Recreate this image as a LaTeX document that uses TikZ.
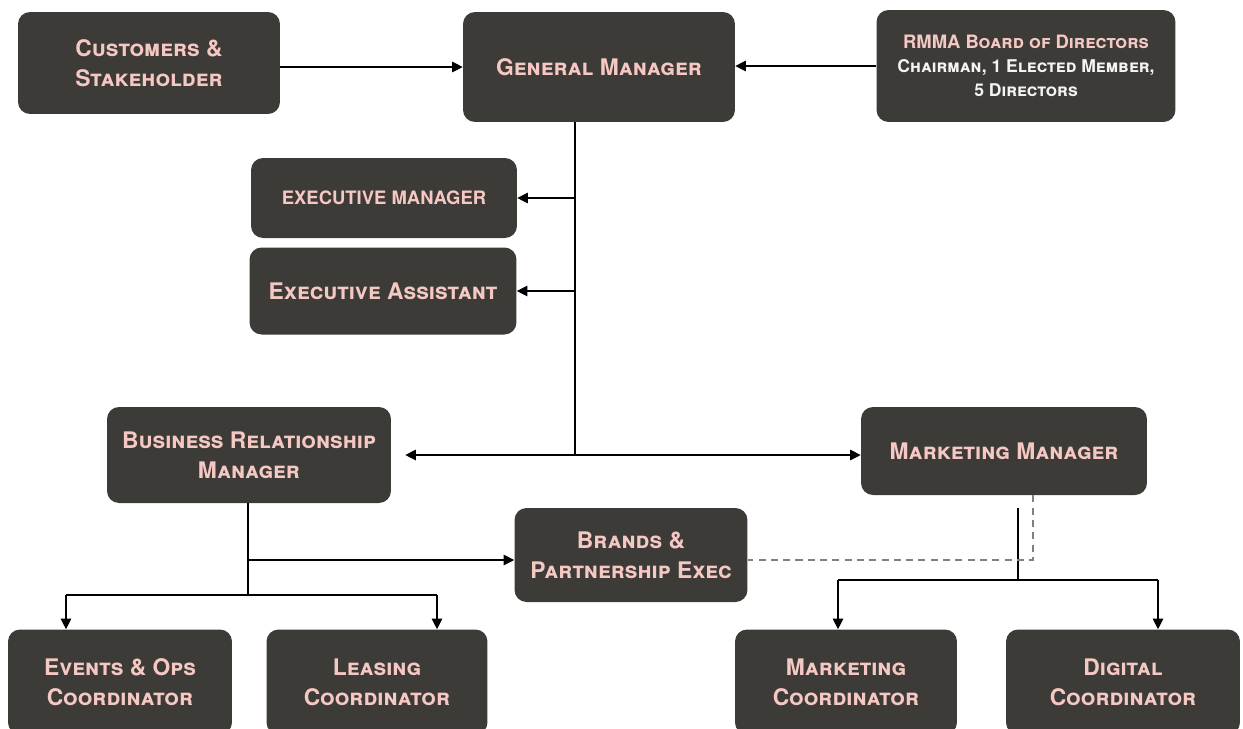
\documentclass[tikz,border=0pt]{standalone}
\usepackage{fontspec}
\setmainfont{TeX Gyre Heros}
\usepackage{xcolor}
\usepackage{tikz}
\usetikzlibrary{arrows.meta}
\usetikzlibrary{positioning}
\definecolor{fundo}{HTML}{3C3B37}
\definecolor{rosa}{HTML}{F6C8C3}
\definecolor{claro}{HTML}{F4F4F4}
\tikzset{
  cargo/.style={fill=fundo, rounded corners=0.24cm, align=center, text=rosa, minimum width=#1, minimum height=1.8cm, inner sep=2pt, font=\fontsize{13}{17}\selectfont\bfseries\scshape},
  cargo/.default=5.4cm,
  liga/.style={line width=0.6pt, black},
  seta/.style={liga, -{Triangle[length=6pt,width=6pt]}},
  pontilhado/.style={line width=1pt, gray, dash pattern=on 4pt off 3pt},
}

\begin{document}
\begin{tikzpicture}[x=0.02cm, y=-0.02cm]
  \useasboundingbox (0,0) rectangle (1243,728);
  % topo
  \node[cargo=5.24cm, minimum height=2.04cm] (cs) at (149,63) {Customers \&\\Stakeholder};
  \node[cargo=5.44cm, minimum height=2.2cm] (gm) at (599,67) {General Manager};
  \node[cargo=5.98cm, minimum height=2.24cm, font=\fontsize{10.5}{13.5}\selectfont\bfseries\scshape] (board) at (1026,66)
    {RMMA Board of Directors\\\textcolor{claro}{\fontsize{10}{13.5}\selectfont Chairman, 1 Elected Member,}\\\textcolor{claro}{\fontsize{10}{13.5}\selectfont 5 Directors}};
  \node[cargo=5.32cm, minimum height=1.6cm, font=\fontsize{10.5}{13}\selectfont\bfseries] (em) at (384,198) {EXECUTIVE MANAGER};
  \node[cargo=5.34cm, minimum height=1.74cm] (ea) at (383,291) {Executive Assistant};
  % gerentes
  \node[cargo=5.68cm, minimum height=1.92cm] (brm) at (249,455) {Business Relationship\\Manager};
  \node[cargo=5.72cm, minimum height=1.76cm] (mm) at (1004,451) {Marketing Manager};
  \node[cargo=4.66cm, minimum height=1.88cm] (bp) at (631,555) {Brands \&\\Partnership Exec};
  % coordenadores
  \node[cargo=4.48cm, minimum height=2.1cm] (eo) at (120,682) {Events \& Ops\\Coordinator};
  \node[cargo=4.42cm, minimum height=2.1cm] (lc) at (377,682) {Leasing\\Coordinator};
  \node[cargo=4.44cm, minimum height=2.1cm] (mc) at (846,682) {Marketing\\Coordinator};
  \node[cargo=4.68cm, minimum height=2.1cm] (dc) at (1123,682) {Digital\\Coordinator};

  \draw[seta] (cs.east |- gm.west) -- (gm.west);
  \draw[seta] (board.west) -- (board.west -| gm.east);

  \coordinate (tronco) at (575,455);
  \draw[liga] (gm.south -| tronco) -- (tronco);
  \draw[seta] (tronco |- em.east) -- (em.east);
  \draw[seta] (tronco |- ea.east) -- (ea.east);
  \draw[seta, shorten >=0.28cm] (tronco) -- (brm.east);
  \draw[seta] (tronco) -- (tronco -| mm.west);

  \coordinate (ramo) at (248,595);
  \coordinate (e1) at (66,595);
  \coordinate (e2) at (437,595);
  \draw[liga] (brm.south -| ramo) -- (ramo);
  \draw[seta] (ramo |- 0,560) -- (bp.west |- 0,560);
  \draw[liga] (e1) -- (e2);
  \draw[seta] (e1) -- (e1 |- eo.north);
  \draw[seta] (e2) -- (e2 |- lc.north);

  \coordinate (mdesce) at (1018,508);
  \coordinate (mramo) at (1018,580);
  \coordinate (m1) at (838,580);
  \coordinate (m2) at (1158,580);
  \draw[liga] (mdesce) -- (mramo);
  \draw[liga] (m1) -- (m2);
  \draw[seta] (m1) -- (m1 |- mc.north);
  \draw[seta] (m2) -- (m2 |- dc.north);

  \coordinate (tracejado) at (1033,560);
  \draw[pontilhado] (mm.south -| tracejado) -- (tracejado) -- (tracejado -| bp.east);
\end{tikzpicture}
\end{document}
